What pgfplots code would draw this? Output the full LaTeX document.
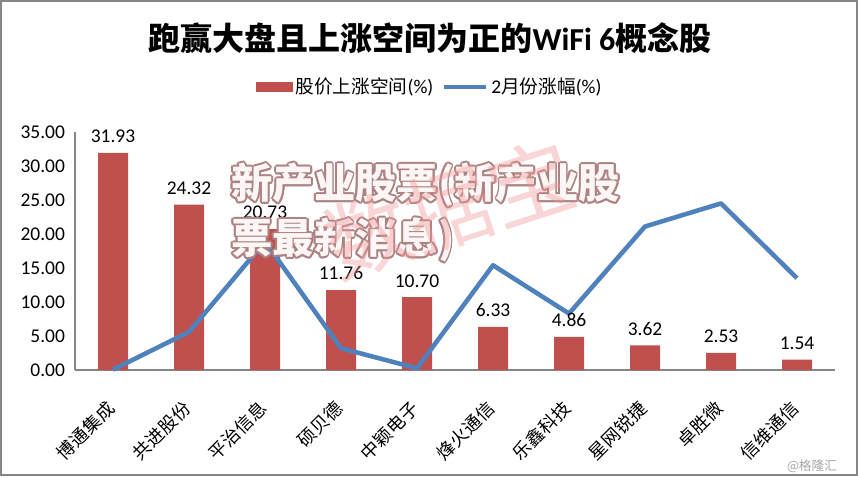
\documentclass[border=0pt]{standalone}
\usepackage{pgfplots}
\pgfplotsset{compat=1.18}
\usepackage{fontspec}
\setmainfont{Carlito}
\newfontfamily\cjk{Noto Sans CJK SC}
\definecolor{barred}{RGB}{192,80,77}
\definecolor{lineblue}{RGB}{79,129,189}
\definecolor{axgray}{RGB}{134,134,134}
\definecolor{wmline}{RGB}{172,130,130}
\definecolor{wmfill}{RGB}{253,246,246}
\definecolor{wmpink}{RGB}{240,150,150}

\begin{document}
\begin{tikzpicture}
% page = 858 x 476 px, 1 px = 0.75pt
\useasboundingbox (0pt,0pt) rectangle (643.5pt,357pt);
\draw[fill=white, draw=axgray, line width=0.9pt] (0.75pt,0.75pt) rectangle (642.75pt,356.25pt);

\node[font=\fontsize{24}{28}\selectfont] at (322.5pt,328.5pt)
  {{\cjk\bfseries 跑赢大盘且上涨空间为正的}\textbf{WiFi 6}{\cjk\bfseries 概念股}};

\begin{axis}[
    at={(56.25pt,79.5pt)}, anchor=south west,
    scale only axis,
    width=570pt, height=178.5pt,
    xmin=-0.5, xmax=9.5,
    ymin=0, ymax=35,
    axis x line*=bottom, axis y line*=left,
    axis line style={axgray, line width=0.9pt, -},
    major tick length=0pt,
    xtick={0,...,9},
    xticklabels={博通集成,共进股份,平治信息,硕贝德,中颖电子,烽火通信,乐鑫科技,星网锐捷,卓胜微,信维通信},
    xticklabel style={font=\cjk\fontsize{13.5}{14}\selectfont, xshift=1pt, yshift=-24pt, rotate=45, anchor=east},
    ytick={0,5,...,35},
    yticklabel style={font=\fontsize{14.6}{16}\selectfont, xshift=-4pt},
    /pgf/number format/fixed,
    /pgf/number format/fixed zerofill,
    /pgf/number format/precision=2,
    /pgf/number format/assume math mode=true,
    legend columns=2,
    legend style={at={(0.467,1.189)}, anchor=center, draw=none, fill=none,
                  font=\fontsize{14.6}{16}\selectfont,
                  /tikz/every even column/.append style={column sep=4pt}},
    clip=false,
]

%% upside (bars)
\addplot[ybar, bar width=22.5pt, fill=barred, draw=none,
    nodes near coords,
    every node near coord/.append style={font=\fontsize{14.6}{16}\selectfont, black, yshift=4pt},
    legend image code/.code={\fill[barred] (0pt,-4pt) rectangle (28pt,4pt);}]
  coordinates {
    (0,31.93) (1,24.32) (2,20.73) (3,11.76) (4,10.70)
    (5,6.33) (6,4.86) (7,3.62) (8,2.53) (9,1.54)
};
\addlegendentry{{\cjk\fontsize{14}{16}\selectfont 股价上涨空间}(\%)}

%% February change (line)
\addplot[lineblue, line width=3.4pt, mark=none, line join=round,
    legend image code/.code={\draw[lineblue, line width=3.4pt] (0pt,0pt) -- (32pt,0pt);}]
  coordinates {
    (0,0.05) (1,5.6) (2,18.9) (3,3.2) (4,0.25)
    (5,15.4) (6,8.3) (7,21.1) (8,24.5) (9,13.5)
};
\addlegendentry{2{\cjk\fontsize{14}{16}\selectfont 月份涨幅}(\%)}
\end{axis}

% watermarks
\foreach \a in {0,30,...,330} {
  \node[anchor=west, text=wmline, font=\cjk\bfseries\fontsize{31}{32}\selectfont, shift={(\a:1.3pt)}] at (170pt,218.25pt) {新产业股票(新产业股};
  \node[anchor=west, text=wmline, font=\cjk\bfseries\fontsize{31}{32}\selectfont, shift={(\a:1.3pt)}] at (170pt,177pt) {票最新消息)};
}
\node[anchor=west, text=wmfill, font=\cjk\bfseries\fontsize{31}{32}\selectfont] at (170pt,218.25pt) {新产业股票(新产业股};
\node[anchor=west, text=wmfill, font=\cjk\bfseries\fontsize{31}{32}\selectfont] at (170pt,177pt) {票最新消息)};
\node[text=wmpink, opacity=0.4, rotate=18, font=\cjk\fontsize{64}{68}\selectfont] at (337pt,200pt) {数据宝};

\node[text=gray!70, font=\cjk\fontsize{9.5}{10}\selectfont] at (609pt,7.5pt) {@格隆汇};
\end{tikzpicture}
\end{document}
